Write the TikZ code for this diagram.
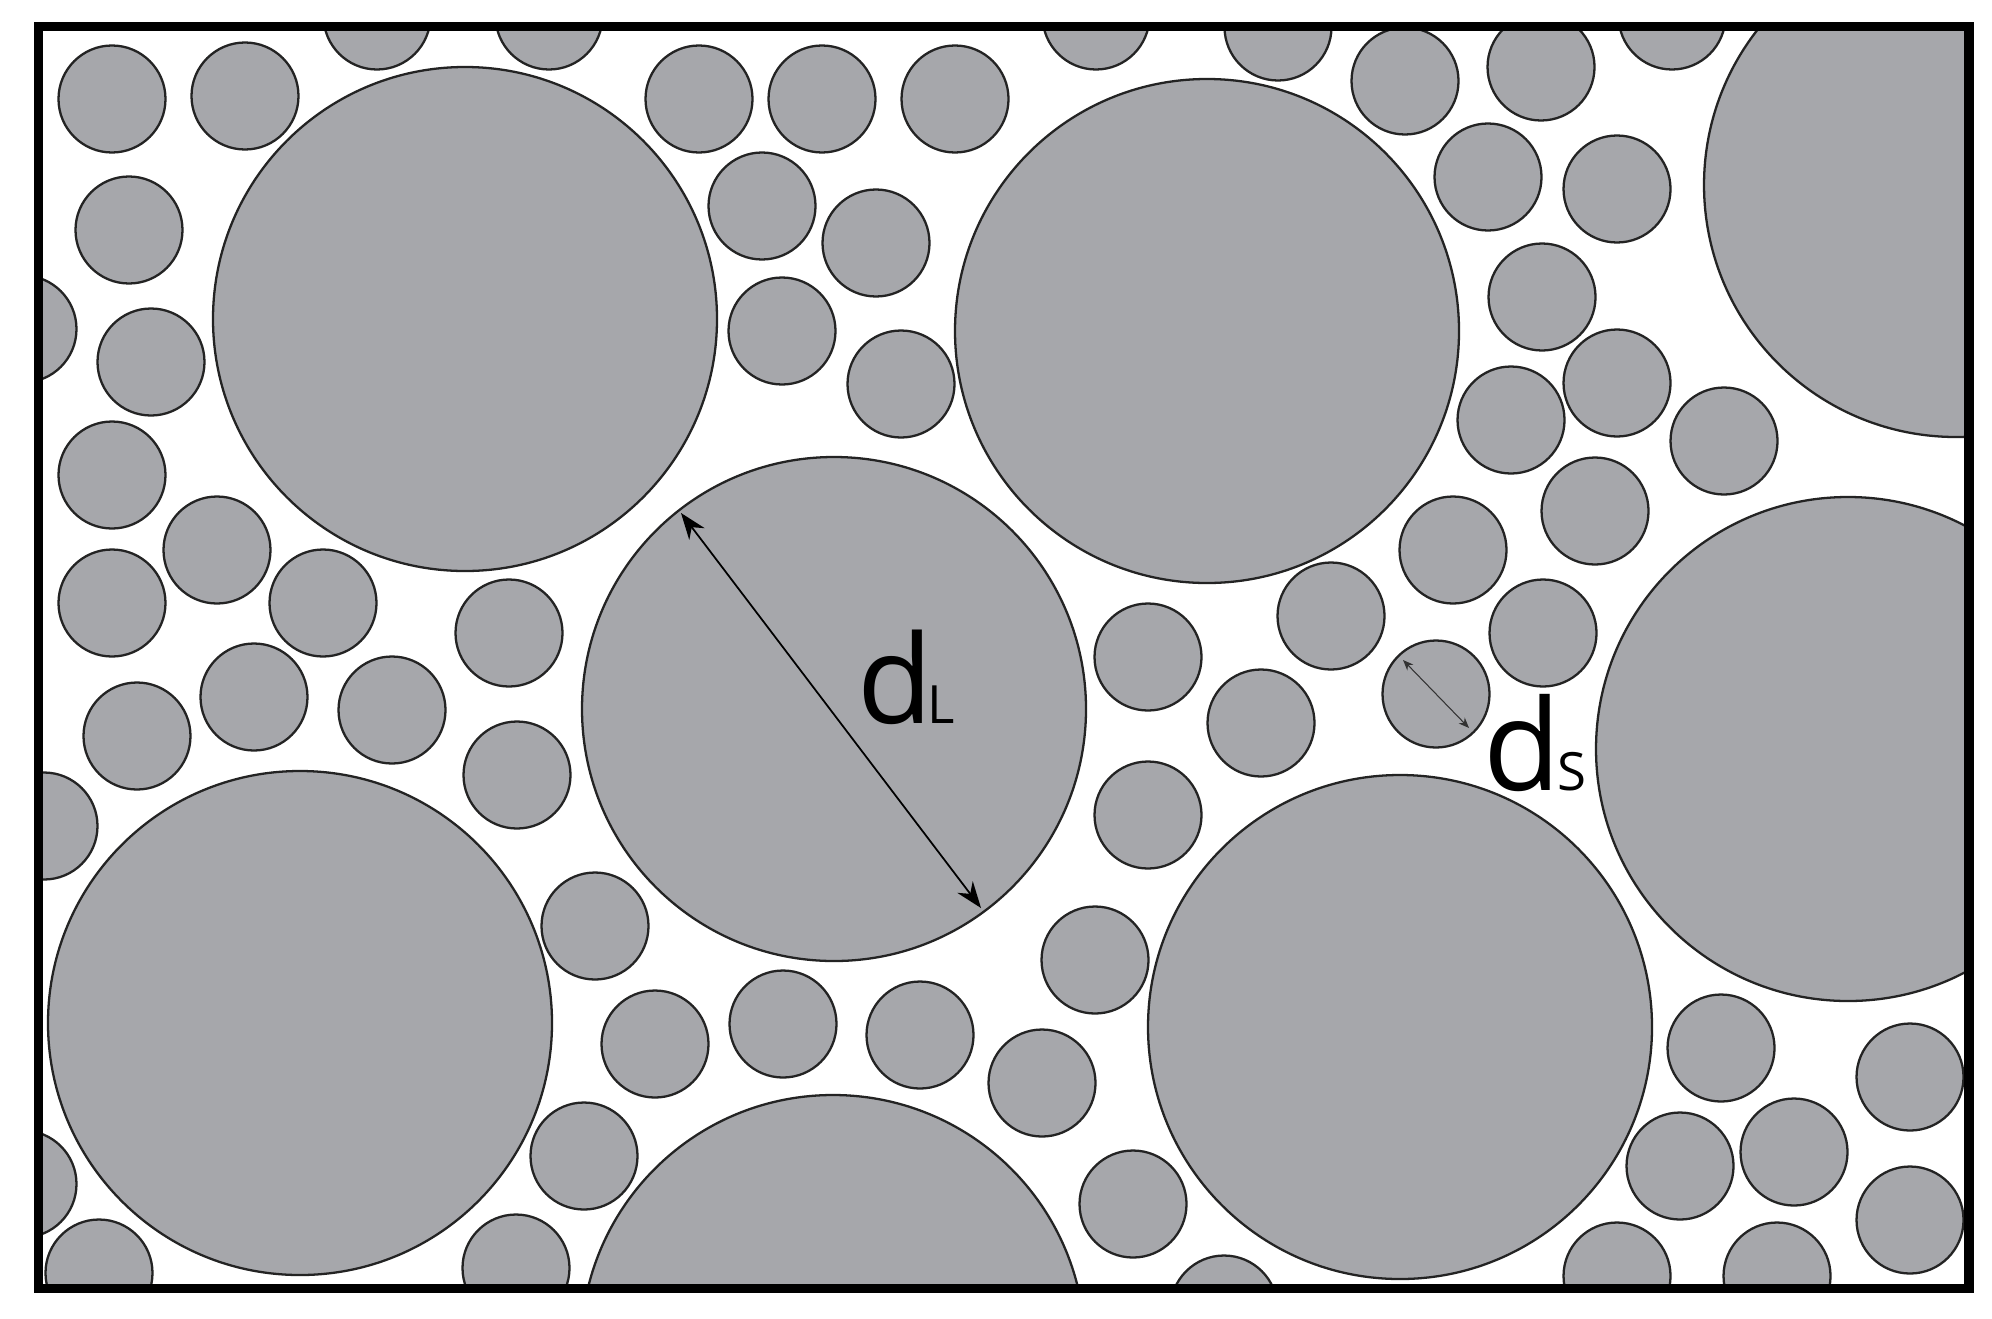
\documentclass[tikz,border=0pt]{standalone}
\usepackage{fontspec}
\setmainfont{Open Sans}
\usetikzlibrary{arrows.meta}
\definecolor{grain}{RGB}{166,167,171}
\definecolor{rim}{RGB}{35,35,35}
\tikzset{
  grainstyle/.style={fill=grain, draw=rim, line width=0.65pt},
  framestyle/.style={draw=black, line width=2.6pt},
  dimbig/.style={draw=black, line width=0.5pt, {Stealth[length=7.5pt,width=5.5pt]}-{Stealth[length=7.5pt,width=5.5pt]}},
  dimsmall/.style={draw=black!80, line width=0.3pt, {Stealth[length=3pt,width=2.4pt]}-{Stealth[length=3pt,width=2.4pt]}},
  lab/.style={anchor=base west, inner sep=0pt, text=black}
}
\begin{document}
\begin{tikzpicture}[x=0.01cm,y=-0.01cm]
\useasboundingbox (0,0) rectangle (1992,1318);
\fill[white] (0,0) rectangle (1992,1318);
\begin{scope}
  \clip (43,31) rectangle (1964,1284);
  % large grains
  \foreach \x/\y in {465/319, 1207/331, 1956/185, 834/709, 1848/749, 300/1023, 833/1347, 1400/1027}
    \path[grainstyle] (\x,\y) circle (252);
  % small grains
  \foreach \x/\y in {112/99, 245/96, 377/16, 549/16, 699/99, 822/99, 955/99, 1096/16, 1278/27, 1405/81, 1541/67, 1672/16,
    762/206, 876/243, 129/230, 1488/177, 1617/189, 1542/297, 23/329, 151/362, 782/331, 901/384, 1511/420, 1617/383, 1724/441,
    112/475, 1595/511, 217/550, 1453/550, 112/603, 323/603, 509/633, 1331/616, 1148/657, 1543/633, 254/697, 392/710, 137/736,
    1261/723, 1436/694, 517/775, 1148/815, 44/826, 595/926, 1095/960, 655/1044, 783/1024, 920/1035, 1042/1083, 1721/1048,
    1910/1077, 584/1156, 1133/1204, 1680/1166, 1794/1152, 23/1184, 1910/1220, 99/1273, 516/1268, 1224/1309, 1617/1276, 1777/1276}
    \path[grainstyle] (\x,\y) circle (53.5);
\end{scope}
% frame
\draw[framestyle] (38.5,26.5) rectangle (1969,1288.5);
% dimension arrows
\coordinate (dLa) at (681,513);
\coordinate (dLb) at (981,908);
\coordinate (dSa) at (1403,660);
\coordinate (dSb) at (1469,728);
\draw[dimbig] (dLa) -- (dLb);
\draw[dimsmall] (dSa) -- (dSb);
% labels
\node[lab] (dL) at (857,723) {\fontsize{35}{35}\selectfont d\kern-1.5pt\fontsize{15}{15}\selectfont L};
\node[lab] (dS) at (1483,790) {\fontsize{36}{36}\selectfont d\kern-1pt\fontsize{15}{15}\selectfont S};
\end{tikzpicture}
\end{document}
